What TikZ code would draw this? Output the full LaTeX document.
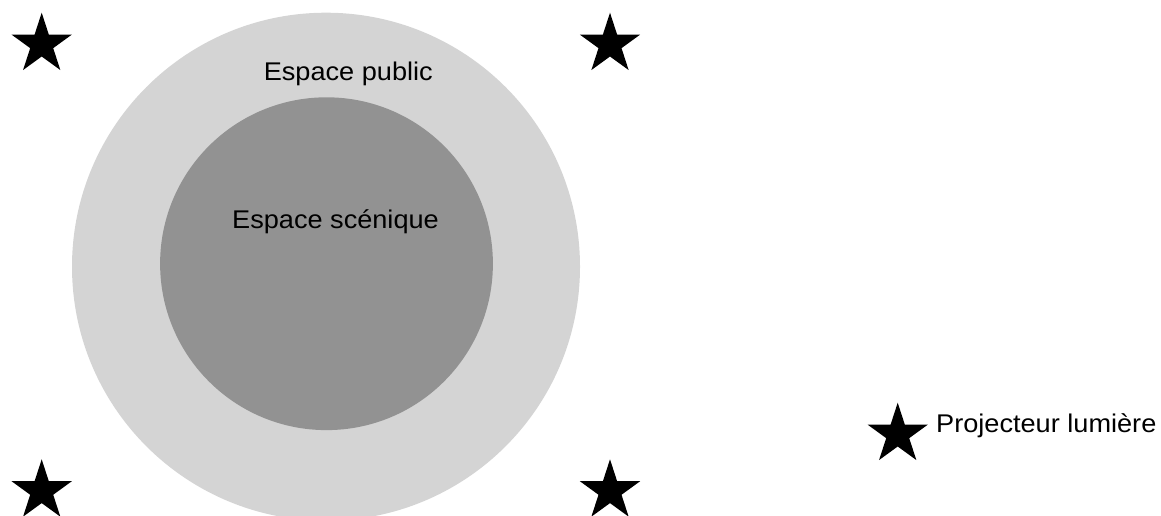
\documentclass[tikz,border=0pt]{standalone}
\usepackage{fontspec}
\setmainfont{Liberation Sans}[FakeStretch=1.06]
\usetikzlibrary{shapes.geometric}
\definecolor{publicgray}{HTML}{D4D4D4}
\definecolor{scenegray}{HTML}{929292}
\tikzset{
  projstar/.style={star, star points=5, star point ratio=2.618, fill=black, draw=none, inner sep=0pt, minimum size=63.4pt},
  lbl/.style={inner sep=0pt, font=\fontsize{25.6pt}{30pt}\selectfont, text=black}
}
\begin{document}
\begin{tikzpicture}[x=1pt, y=-1pt]
\useasboundingbox (0,0) rectangle (1161,515);
\begin{scope}
\clip (0,0) rectangle (1161,515);
\fill[publicgray] (326,266.7) circle[radius=254];
\end{scope}
\fill[scenegray] (326.5,263.7) circle[radius=166.4];
\node[lbl, anchor=base] (public) at (348.3,80) {Espace public};
\node[lbl, anchor=base] (scene) at (335.5,228.3) {Espace scénique};
\node[projstar] (s1) at (41.7,44.4) {};
\node[projstar] (s2) at (610,44.4) {};
\node[projstar] (s3) at (41.7,491) {};
\node[projstar] (s4) at (610,491) {};
\node[projstar] (s5) at (897.7,434.4) {};
\node[lbl, anchor=base west] (legend) at (936,432.7) {Projecteur lumière};
\end{tikzpicture}
\end{document}
